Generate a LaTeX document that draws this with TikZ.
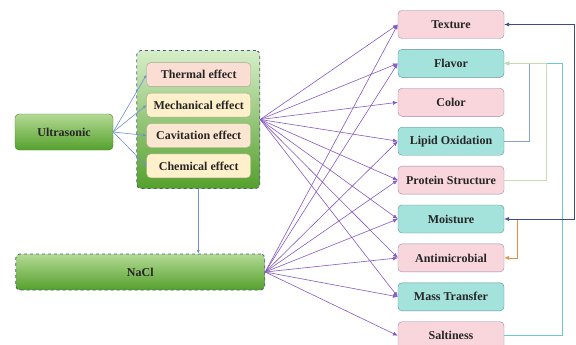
\documentclass[tikz,border=0pt]{standalone}
\usepackage{fontspec}
\setmainfont{Liberation Serif}
\usetikzlibrary{arrows.meta}
\usetikzlibrary{positioning}
\definecolor{peach}{HTML}{FADDD3}
\definecolor{lightpeach}{HTML}{FBE6D2}
\definecolor{cream}{HTML}{FEF0CA}
\definecolor{effectborder}{HTML}{A9A58F}
\definecolor{pinkfill}{HTML}{F8D6DC}
\definecolor{pinkborder}{HTML}{9A89A6}
\definecolor{cyanfill}{HTML}{A4E2DC}
\definecolor{cyanborder}{HTML}{5E919C}
\definecolor{greentop}{HTML}{B3DA95}
\definecolor{greenbottom}{HTML}{55A02C}
\definecolor{paletop}{HTML}{D6EEC8}
\definecolor{dashborder}{HTML}{4B5B7C}
\definecolor{solidgreen}{HTML}{4C7F30}
\definecolor{linkpurple}{HTML}{8658C4}
\definecolor{linkblue}{HTML}{6F8ED8}
\definecolor{navyline}{HTML}{3E4A86}
\definecolor{lipidline}{HTML}{86A2DA}
\definecolor{proteinline}{HTML}{C3DFAE}
\definecolor{saltline}{HTML}{6EC6D2}
\definecolor{orangeline}{HTML}{EE8A3C}
\tikzset{
    >={Latex[width=1.4mm,length=1.7mm]},
    base/.style =   {
                        rectangle, rounded corners=4pt, draw,
                        text centered, inner sep=0pt, text=black!85,
                        font=\bfseries\fontsize{12}{14}\selectfont
                    },
    effect/.style = {base, draw=effectborder, minimum width=104pt, minimum height=24pt},
    thermal/.style = {effect, fill=peach},
    mechanical/.style = {effect, fill=cream},
    cavitation/.style = {effect, fill=lightpeach},
    chemical/.style = {effect, fill=cream},
    result/.style = {base, minimum width=106pt, minimum height=28pt},
    pinkbox/.style = {result, fill=pinkfill, draw=pinkborder},
    cyanbox/.style = {result, fill=cyanfill, draw=cyanborder},
    source/.style = {base, minimum height=36pt, top color=greentop, bottom color=greenbottom},
    group/.style = {base, dashed, thick, draw=dashborder},
    link/.style = {->, draw=linkpurple, line width=0.6pt},
    feed/.style = {-{Latex[width=1mm,length=1.2mm]}, draw=linkblue, line width=0.6pt}
}

\begin{document}
\begin{tikzpicture}[x=1pt, y=-1pt, node distance=10.5pt]
    \useasboundingbox (0,0) rectangle (576,345);

    % left side
    \node (ultrasonic)  [source, draw=solidgreen, minimum width=98pt] at (64,132) {Ultrasonic};
    \node (effects)     [group, minimum width=123pt, minimum height=138pt,
                         top color=paletop, bottom color=greenbottom] at (198.3,119.5) {};
    \node (thermal)     [thermal] at (198.7,74.7)            {Thermal effect};
    \node (mechanical)  [mechanical, below=6pt of thermal]   {Mechanical effect};
    \node (cavitation)  [cavitation, below=6pt of mechanical] {Cavitation effect};
    \node (chemical)    [chemical, below=6pt of cavitation]  {Chemical effect};
    \node (nacl)        [source, group, top color=greentop, bottom color=greenbottom,
                         minimum width=249pt] at (140.3,272) {NaCl};

    % right side
    \node (texture)       [pinkbox] at (451,24.5)              {Texture};
    \node (flavor)        [cyanbox, below=of texture]          {Flavor};
    \node (color)         [pinkbox, below=of flavor]           {Color};
    \node (lipid)         [cyanbox, below=of color]            {Lipid Oxidation};
    \node (protein)       [pinkbox, below=of lipid]            {Protein Structure};
    \node (moisture)      [cyanbox, below=of protein]          {Moisture};
    \node (antimicrobial) [pinkbox, below=of moisture]         {Antimicrobial};
    \node (mass)          [cyanbox, below=of antimicrobial]    {Mass Transfer};
    \node (saltiness)     [pinkbox, below=of mass]             {Saltiness};

    \draw[feed]     (ultrasonic.east) -- (thermal.west);
    \draw[feed]     (ultrasonic.east) -- (mechanical.west);
    \draw[feed]     (ultrasonic.east) -- (cavitation.west);
    \draw[feed]     (ultrasonic.east) -- (chemical.west);
    \draw[feed]     (effects.south) -- (effects.south |- nacl.north);

    \draw[link]     (effects.east) -- (texture.west);
    \draw[link]     (effects.east) -- (flavor.west);
    \draw[link]     (effects.east) -- (color.west);
    \draw[link]     (effects.east) -- (lipid.west);
    \draw[link]     (effects.east) -- (protein.west);
    \draw[link]     (effects.east) -- (moisture.west);
    \draw[link]     (effects.east) -- (antimicrobial.west);
    \draw[link]     (effects.east) -- (mass.west);

    \draw[link]     (nacl.east) -- (texture.west);
    \draw[link]     (nacl.east) -- (flavor.west);
    \draw[link]     (nacl.east) -- (lipid.west);
    \draw[link]     (nacl.east) -- (protein.west);
    \draw[link]     (nacl.east) -- (moisture.west);
    \draw[link]     (nacl.east) -- (antimicrobial.west);
    \draw[link]     (nacl.east) -- (mass.west);
    \draw[link]     (nacl.east) -- (saltiness.west);

    % feedback on the right
    \draw[->, draw=lipidline, line width=0.6pt]   (lipid.east) -- ++(25pt,0) |- (flavor.east);
    \draw[->, draw=saltline, line width=0.6pt]    (saltiness.east) -- ++(58pt,0) |- (flavor.east);
    \draw[->, draw=proteinline, line width=0.6pt] (protein.east) -- ++(42pt,0) |- (flavor.east);
    \coordinate (branch) at ([xshift=13pt]moisture.east);
    \draw[->, draw=orangeline, line width=0.6pt]  (branch) |- (antimicrobial.east);
    \draw[<->, draw=navyline, line width=0.6pt]   (moisture.east) -- ++(70pt,0) |- (texture.east);
\end{tikzpicture}
\end{document}
